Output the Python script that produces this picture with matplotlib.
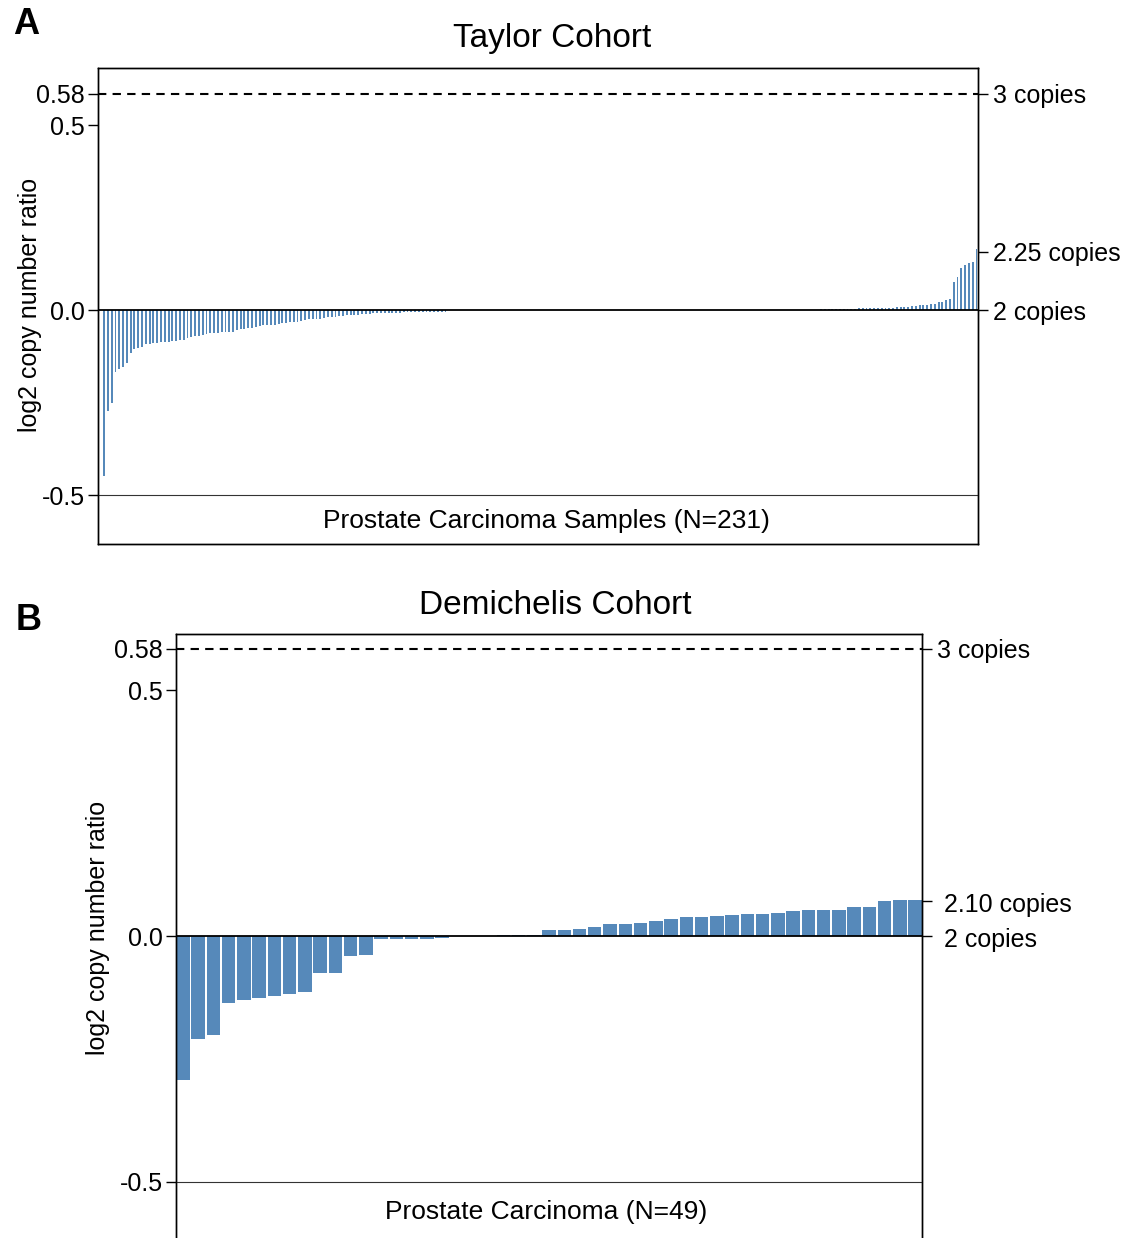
import numpy as np
import matplotlib
matplotlib.use('Agg')
import matplotlib.pyplot as plt
from matplotlib.transforms import ScaledTranslation

plt.rcParams['font.family'] = ['Liberation Sans', 'DejaVu Sans']

# Taylor cohort, sorted log2 ratios
TaylorNeg = [-0.449, -0.273, -0.250, -0.168, -0.160, -0.155, -0.144, -0.117, -0.105, -0.102,
             -0.100, -0.093, -0.091, -0.089, -0.088, -0.086, -0.086, -0.085, -0.084, -0.084,
             -0.082, -0.080, -0.075, -0.072, -0.070, -0.069, -0.068, -0.064, -0.062, -0.061,
             -0.061, -0.060, -0.059, -0.059, -0.059, -0.055, -0.052, -0.050, -0.049, -0.048,
             -0.045, -0.042, -0.041, -0.041, -0.040, -0.039, -0.037, -0.035, -0.034, -0.032,
             -0.032, -0.031, -0.029, -0.028, -0.025, -0.023, -0.023, -0.023, -0.021, -0.019,
             -0.019, -0.018, -0.016, -0.015, -0.014, -0.013, -0.012, -0.012, -0.011, -0.010,
             -0.010, -0.009, -0.009, -0.008, -0.008, -0.008, -0.007, -0.007, -0.007, -0.006,
             -0.006, -0.006, -0.006, -0.005, -0.005, -0.005, -0.005, -0.004, -0.004, -0.004,
             -0.004]
TaylorFlat = [0.0, 0.0, 0.0, 0.0, 0.0, 0.0, 0.0, 0.0, 0.0, 0.0,
              0.0, 0.0, 0.0, 0.0, 0.0, 0.0, 0.0, 0.0, 0.0, 0.0,
              0.0, 0.0, 0.0, 0.0, 0.0, 0.0, 0.0, 0.0, 0.0, 0.0,
              0.0, 0.0, 0.0, 0.0, 0.0, 0.0, 0.0, 0.0, 0.0, 0.0,
              0.0, 0.0, 0.0, 0.0, 0.0, 0.0, 0.0, 0.0, 0.0, 0.0,
              0.0, 0.0, 0.0, 0.0, 0.0, 0.0, 0.0, 0.0, 0.0, 0.0,
              0.0, 0.0, 0.0, 0.0, 0.0, 0.0, 0.0, 0.0, 0.0, 0.0,
              0.0, 0.0, 0.0, 0.0, 0.0, 0.0, 0.0, 0.0, 0.0, 0.0,
              0.0, 0.0, 0.0, 0.0, 0.0, 0.0, 0.0, 0.0, 0.0, 0.0,
              0.0, 0.0, 0.0, 0.0, 0.0, 0.0, 0.0, 0.0]
TaylorPos = [0.004, 0.004, 0.004, 0.004, 0.004, 0.004, 0.004, 0.004, 0.004, 0.004,
             0.005, 0.005, 0.005, 0.005, 0.005, 0.005, 0.006, 0.006, 0.006, 0.006,
             0.007, 0.008, 0.009, 0.009, 0.012, 0.012, 0.014, 0.014, 0.015, 0.017,
             0.017, 0.023, 0.023, 0.028, 0.030, 0.076, 0.090, 0.114, 0.123, 0.128,
             0.130, 0.166]

# Demichelis cohort
DemiNeg = [-0.293, -0.209, -0.202, -0.137, -0.130, -0.126, -0.122, -0.119, -0.114,
           -0.075, -0.075, -0.040, -0.039, -0.007, -0.007, -0.006, -0.006, -0.005]
DemiFlat = [0.0, 0.0, 0.0]
DemiPos = [0.002, 0.003, 0.003, 0.012, 0.013, 0.014, 0.018, 0.024, 0.025, 0.026,
           0.031, 0.034, 0.038, 0.039, 0.041, 0.043, 0.044, 0.045, 0.046, 0.050,
           0.052, 0.052, 0.052, 0.059, 0.060, 0.071, 0.073, 0.074]

LeftTicks = [np.log2(1.5), 0.5, 0.0, -0.5]
LeftLabels = ['0.58', '0.5', '0.0', '-0.5']
TaylorRightTicks = [np.log2(1.5), 0.157, 0.0]
TaylorRightLabels = ['3 copies', '2.25 copies', '2 copies']
DemiRightTicks = [np.log2(1.5), np.log2(1.05), 0.0]
DemiRightLabels = ['3 copies', '2.10 copies', '2 copies']

BarColor = '#5689BA'
W, H = 1136, 1238


def px(x, y):
    return x / W, 1 - y / H


def DrawPanel(fig, rect, values, xlim, ylim, width, rticks, rlabels, xlabel, xlabel_pos,
              bottom_spine, label_shift=0):
    ax = fig.add_axes(rect)
    x = np.arange(len(values))
    ax.bar(x, values, width=width, color=BarColor, linewidth=0, zorder=2)
    ax.axhline(0, color='black', lw=1.3, zorder=3)
    ax.axhline(np.log2(1.5), color='black', lw=1.5, ls=(0, (4, 3)), zorder=3)
    ax.axhline(-0.5, color='#333333', lw=0.8, zorder=3)
    ax.set_xlim(*xlim)
    ax.set_ylim(*ylim)
    ax.set_xticks([])
    ax.set_yticks(LeftTicks)
    ax.set_yticklabels(LeftLabels)
    ax.tick_params(axis='y', length=7.5, width=1, labelsize=18, pad=2)
    ax.text(xlabel_pos[0], xlabel_pos[1], xlabel, ha='center', va='center', fontsize=19,
            transform=ax.get_yaxis_transform())

    twin = ax.twinx()
    twin.set_ylim(*ylim)
    twin.set_yticks(rticks)
    twin.set_yticklabels(rlabels)
    twin.tick_params(axis='y', length=7.5, width=1, labelsize=18, pad=3)
    if label_shift:
        # lower two labels sit a bit further from their ticks
        for lbl in twin.get_yticklabels()[1:]:
            lbl.set_transform(lbl.get_transform() + ScaledTranslation(label_shift / 100, -1 / 100, fig.dpi_scale_trans))

    for a in (ax, twin):
        for s in a.spines.values():
            s.set_linewidth(1)
        a.spines['bottom'].set_visible(bottom_spine)
    return ax


def run():
    fig = plt.figure(figsize=(W / 100, H / 100), dpi=100)

    taylor = TaylorNeg + TaylorFlat + TaylorPos
    l, b = px(98, 544)
    r, t = px(978, 68)
    DrawPanel(fig, [l, b, r - l, t - b], taylor, (-1.6, 230.4), (-0.632, 0.654), 0.5,
              TaylorRightTicks, TaylorRightLabels, 'Prostate Carcinoma Samples (N=231)',
              ((546 - 98) / 880, -0.571), True)

    demi = DemiNeg + DemiFlat + DemiPos
    l, b = px(176, 1238)
    r, t = px(922, 634)
    DrawPanel(fig, [l, b, r - l, t - b], demi, (-0.45, 48.45), (-0.615, 0.615), 0.88,
              DemiRightTicks, DemiRightLabels, 'Prostate Carcinoma (N=49)',
              ((546 - 176) / 746, -0.563), False, label_shift=7)

    fig.text(*px(552, 38), 'Taylor Cohort', ha='center', va='center', fontsize=24)
    fig.text(*px(555, 605), 'Demichelis Cohort', ha='center', va='center', fontsize=24)
    fig.text(*px(26, 25), 'A', ha='center', va='center', fontsize=26, fontweight='bold')
    fig.text(*px(29, 620), 'B', ha='center', va='center', fontsize=26, fontweight='bold')
    fig.text(*px(30, 305), 'log2 copy number ratio', ha='center', va='center', rotation=90, fontsize=18)
    fig.text(*px(98, 928), 'log2 copy number ratio', ha='center', va='center', rotation=90, fontsize=18)

    fig.savefig('out.png', dpi=100)


if __name__ == '__main__':
    run()
